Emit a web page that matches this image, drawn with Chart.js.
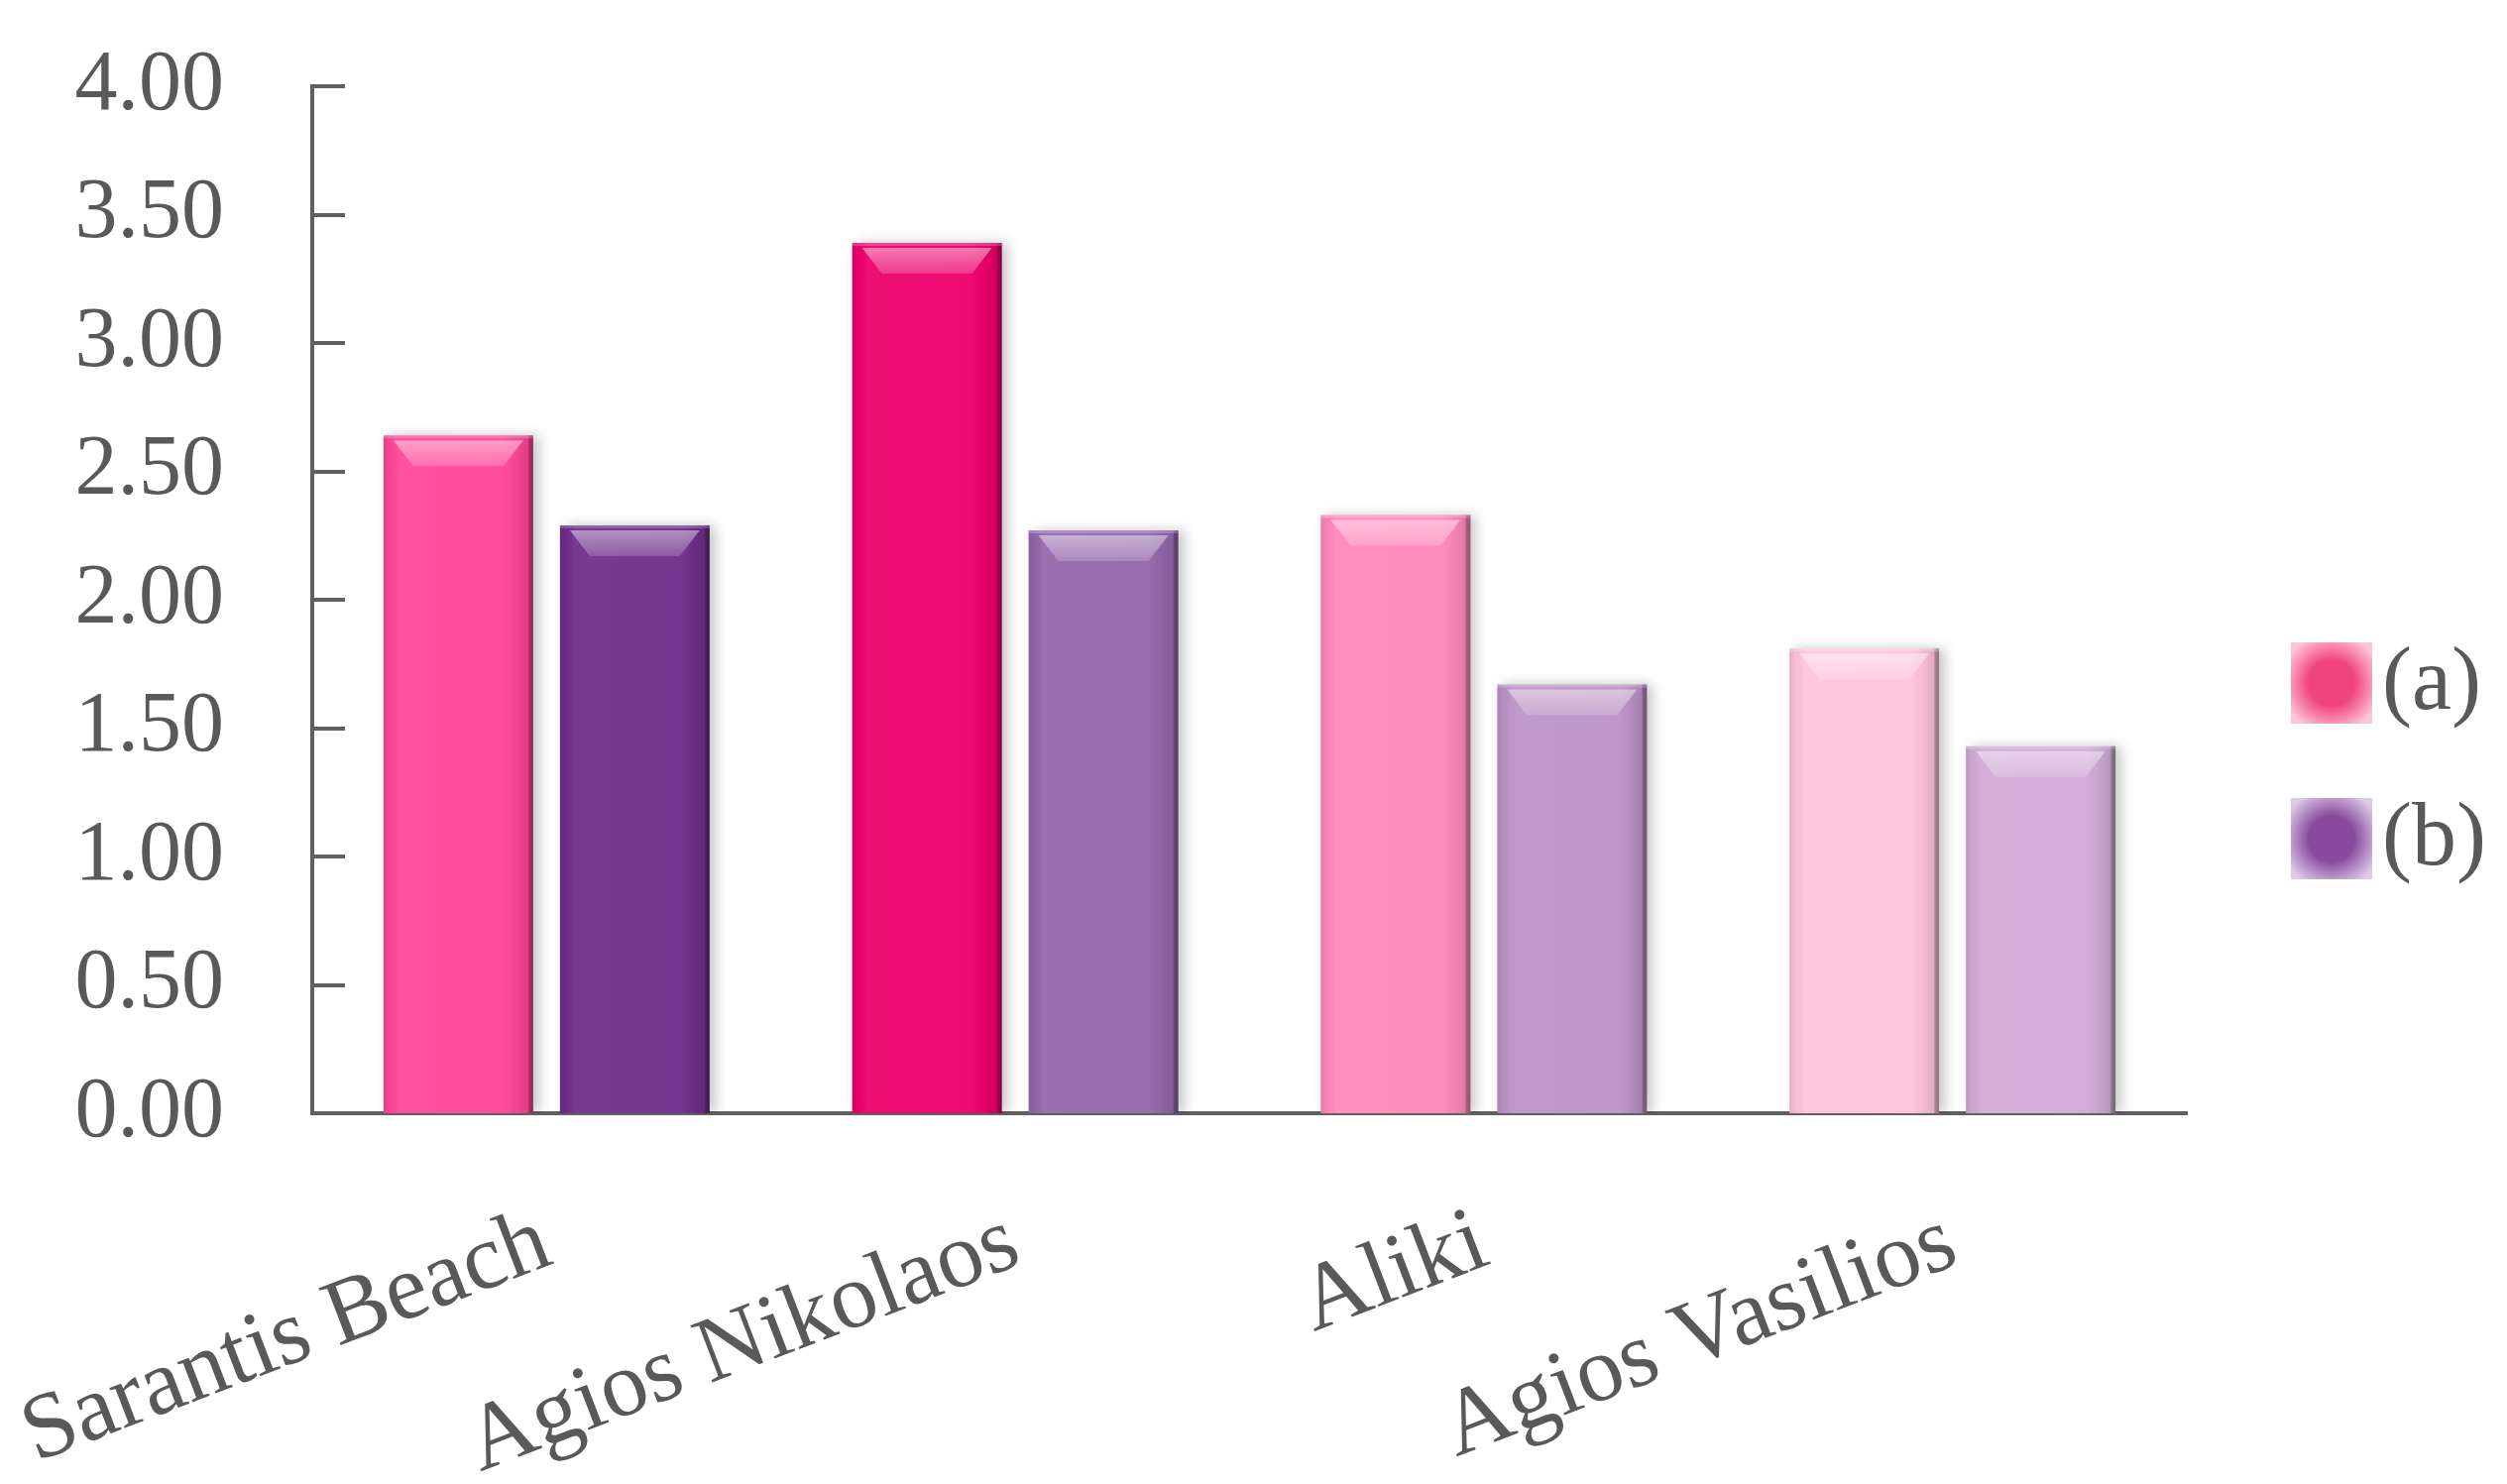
<!DOCTYPE html>
<html>
<head>
<meta charset="utf-8">
<script src="https://cdn.jsdelivr.net/npm/chart.js@4.4.0/dist/chart.umd.min.js"></script>
<style>
html,body{margin:0;padding:0;background:#ffffff;}
#wrap{width:2529px;height:1497px;}
</style>
</head>
<body>
<div id="wrap"><canvas id="c" width="2529" height="1497"></canvas></div>
<script>
// ---- data ----
const categories = ['Sarantis Beach', 'Agios Nikolaos', 'Aliki', 'Agios Vasilios'];
const seriesNames = ['(a)', '(b)'];
const valuesA = [2.64, 3.39, 2.33, 1.81];
const valuesB = [2.29, 2.27, 1.67, 1.43];
const yTickLabels = ['0.00', '0.50', '1.00', '1.50', '2.00', '2.50', '3.00', '3.50', '4.00'];

// ---- styles ----
const colorsA = ['#FF4697', '#EC006C', '#FF88B8', '#FFC3DC'];
const colorsB = ['#6E2E8B', '#9467AD', '#BB93C6', '#D0AAD6'];
const legendCenter = ['#F0447F', '#874A9E'];
const legendEdge = ['#FCC6DA', '#DCCAE6'];
const textColor = '#595959';
const axisColor = '#606060';
const FONT = "'Liberation Serif', 'Times New Roman', serif";

Chart.defaults.font.family = FONT;
Chart.defaults.color = textColor;

function glossBar(ctx, el) {
  const p = el.getProps(['x', 'y', 'width', 'base'], true);
  const l = p.x - p.width / 2, r = p.x + p.width / 2;
  const t = Math.min(p.y, p.base), b = Math.max(p.y, p.base);
  const w = r - l, h = b - t;
  const g = ctx.createLinearGradient(l, 0, r, 0);
  g.addColorStop(0, 'rgba(0,0,0,0.10)');
  g.addColorStop(0.04, 'rgba(0,0,0,0.03)');
  g.addColorStop(0.10, 'rgba(255,255,255,0.06)');
  g.addColorStop(0.80, 'rgba(255,255,255,0.04)');
  g.addColorStop(0.90, 'rgba(0,0,0,0.05)');
  g.addColorStop(0.965, 'rgba(0,0,0,0.12)');
  g.addColorStop(0.972, 'rgba(0,0,0,0.32)');
  g.addColorStop(1, 'rgba(0,0,0,0.42)');
  ctx.fillStyle = g;
  ctx.fillRect(l, t, w, h);
  ctx.fillStyle = 'rgba(255,255,255,0.22)';
  ctx.fillRect(l, t, w, 3);
  const tg = ctx.createLinearGradient(0, t + 5, 0, t + 31);
  tg.addColorStop(0, 'rgba(255,255,255,0.45)');
  tg.addColorStop(1, 'rgba(255,255,255,0.18)');
  ctx.beginPath();
  ctx.moveTo(l + 10, t + 5);
  ctx.lineTo(r - 10, t + 5);
  ctx.lineTo(r - 30, t + 31);
  ctx.lineTo(l + 30, t + 31);
  ctx.closePath();
  ctx.fillStyle = tg;
  ctx.fill();
}

const stylePlugin = {
  id: 'stylePlugin',
  beforeDatasetsDraw(chart) {
    const ctx = chart.ctx;
    ctx.save();
    ctx.shadowColor = 'rgba(0,0,0,0.22)';
    ctx.shadowBlur = 12;
    ctx.shadowOffsetX = 6;
    ctx.shadowOffsetY = 0;
  },
  afterDatasetsDraw(chart) {
    const ctx = chart.ctx;
    ctx.restore();
    ctx.save();
    chart.getSortedVisibleDatasetMetas().forEach(meta => {
      meta.data.forEach(el => glossBar(ctx, el));
    });
    ctx.restore();
  },
  afterDraw(chart) {
    const ctx = chart.ctx;
    const ys = chart.scales.y;
    const area = chart.chartArea;
    ctx.save();
    // inward tick marks on the value axis
    ctx.strokeStyle = axisColor;
    ctx.lineWidth = 4;
    ys.ticks.forEach(tk => {
      const py = Math.round(ys.getPixelForValue(tk.value));
      ctx.beginPath();
      ctx.moveTo(area.left, py);
      ctx.lineTo(area.left + 33, py);
      ctx.stroke();
    });
    // legend
    const boxX = 2311, size = 82;
    const centersY = [689, 846];
    chart.data.datasets.forEach((ds, i) => {
      const cx = boxX + size / 2, cy = centersY[i];
      const rg = ctx.createRadialGradient(cx, cy, 0, cx, cy, size * 0.62);
      rg.addColorStop(0, legendCenter[i]);
      rg.addColorStop(0.45, legendCenter[i]);
      rg.addColorStop(1, legendEdge[i]);
      ctx.fillStyle = rg;
      ctx.fillRect(boxX, cy - size / 2, size, size);
      ctx.fillStyle = textColor;
      ctx.font = '90px ' + FONT;
      ctx.textAlign = 'left';
      ctx.textBaseline = 'middle';
      ctx.fillText(ds.label, 2403, cy + 2);
    });
    ctx.restore();
  }
};

new Chart(document.getElementById('c'), {
  type: 'bar',
  data: {
    labels: categories,
    datasets: [
      { label: seriesNames[0], data: valuesA, backgroundColor: colorsA, borderWidth: 0,
        categoryPercentage: 0.753, barPercentage: 0.848 },
      { label: seriesNames[1], data: valuesB, backgroundColor: colorsB, borderWidth: 0,
        categoryPercentage: 0.753, barPercentage: 0.848 }
    ]
  },
  options: {
    responsive: false,
    animation: false,
    devicePixelRatio: 1,
    layout: { padding: { left: 30, right: 323, top: 87, bottom: 0 } },
    plugins: { legend: { display: false }, tooltip: { enabled: false } },
    scales: {
      x: {
        grid: { display: false, drawTicks: false },
        border: { display: true, color: axisColor, width: 4 },
        ticks: {
          color: textColor,
          font: { family: FONT, size: 94, lineHeight: 1 },
          minRotation: 21, maxRotation: 21,
          autoSkip: false,
          padding: 84
        },
        afterFit(s) { s.height = 374; s.paddingLeft = 0; s.paddingRight = 0; }
      },
      y: {
        min: 0, max: 4,
        grid: { display: false, drawTicks: false },
        border: { display: true, color: axisColor, width: 4 },
        ticks: {
          stepSize: 0.5,
          color: textColor,
          font: { family: FONT, size: 86 },
          padding: 89,
          callback: (v) => yTickLabels[Math.round(v / 0.5)]
        },
        afterFit(s) { s.width = 285; s.paddingTop = 0; s.paddingBottom = 0; }
      }
    }
  },
  plugins: [stylePlugin]
});
</script>
</body>
</html>
